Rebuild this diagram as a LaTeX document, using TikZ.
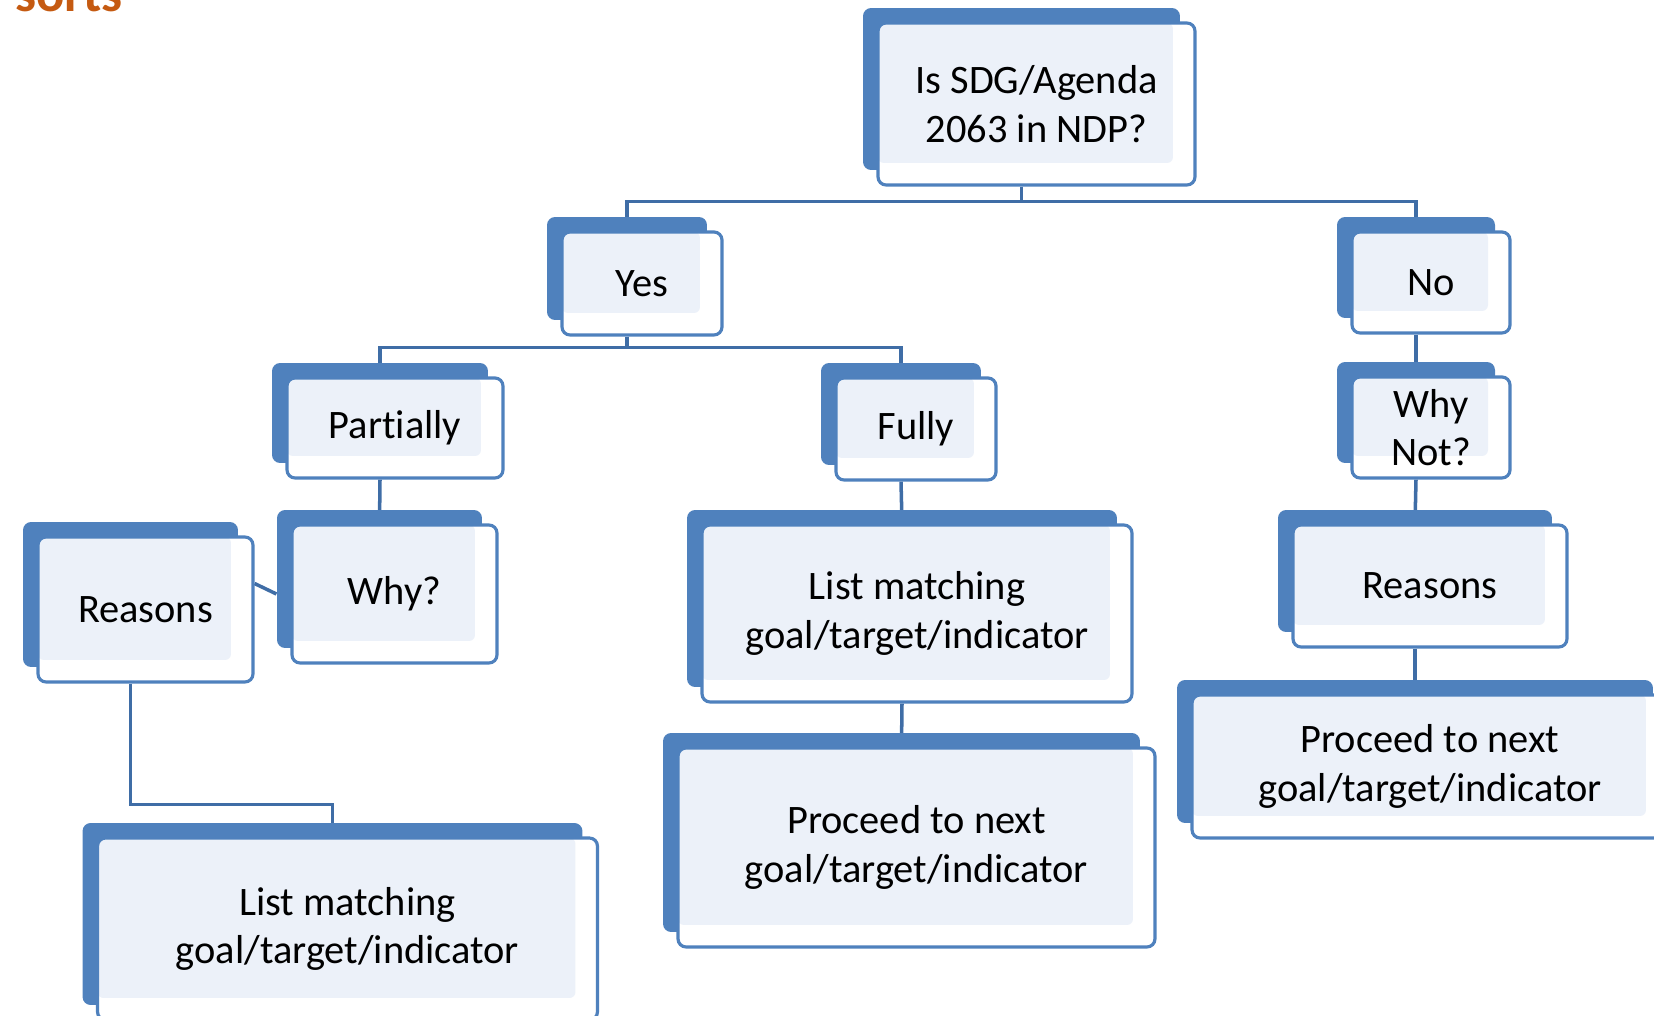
\documentclass[tikz,border=0pt]{standalone}
\usepackage{fontspec}
\setmainfont{Carlito}[Ligatures=NoCommon]
\usepackage{tikz}
\usetikzlibrary{shadows,backgrounds,positioning}

\definecolor{sablue}{HTML}{4F81BD}
\definecolor{salight}{HTML}{ECF1F9}
\definecolor{salink}{HTML}{3F6DA6}
\definecolor{saorange}{HTML}{C55A11}

\tikzset{
	sabox/.style={draw=sablue, line width=1.8pt, fill=white, rounded corners=0.16cm,
		inner sep=0pt, align=center, font=\fontsize{23}{27.5}\selectfont,
		general shadow={fill=sablue, shadow xshift=-0.3cm, shadow yshift=0.3cm},
		path picture={\fill[salight, rounded corners=0.12cm] (path picture bounding box.north west)
			rectangle ([xshift=-0.44cm,yshift=0.44cm]path picture bounding box.south east);}},
	sz/.style 2 args={minimum width=#1cm, minimum height=#2cm},
	link/.style={draw=salink, line width=2pt}
}

\begin{document}
\begin{tikzpicture}[x=0.02cm, y=-0.02cm]
		\def\sh{0.3cm}% offset of the back box
		\useasboundingbox (0,0) rectangle (1654,1016);
		\clip (0,0) rectangle (1654,1016);
		\node[font=\fontsize{30}{30}\selectfont\bfseries, text=saorange, anchor=base west, inner sep=0pt] (ttl) at (15,12) {sorts};
		% boxes
		\node[sabox, sz={6.34}{3.24}] (ndp) at (1036.5,104) {Is SDG/Agenda\\2063 in NDP?};
		\node[sabox, sz={3.2}{2.06}] (yes) at (642,283.5) {Yes};
		\node[sabox, sz={3.16}{2.02}] (no) at (1431,282.5) {No};
		\node[sabox, sz={4.32}{2.0}] (part) at (395,428) {Partially};
		\node[sabox, sz={3.2}{2.04}] (fully) at (916,429) {Fully};
		\node[sabox, sz={3.16}{2.02}] (whynot) at (1431,427.5) {Why\\Not?};
		\node[sabox, sz={4.1}{2.76}] (why) at (394.5,594) {Why?};
		\node[sabox, sz={4.3}{2.9}] (reasl) at (145.5,609.5) {Reasons};
		\node[sabox, sz={8.6}{3.54}] (listc) at (917,613.5) {List matching\\goal/target/indicator};
		\node[sabox, sz={5.48}{2.44}] (reasr) at (1430,586) {Reasons};
		\node[sabox, sz={9.52}{2.86}] (procr) at (1430,766.5) {Proceed to next\\goal/target/indicator};
		\node[sabox, sz={9.54}{3.98}] (procc) at (916.5,847.5) {Proceed to next\\goal/target/indicator};
		\node[sabox, sz={10.0}{3.64}] (listl) at (347.5,929) {List matching\\goal/target/indicator};
		% connectors
		\begin{scope}[on background layer]
			\draw[link] ([xshift=-\sh]ndp.south) -- ++(0,15) -| ([xshift=-\sh]yes.north);
			\draw[link] ([xshift=-\sh]ndp.south) -- ++(0,15) -| ([xshift=-\sh]no.north);
			\draw[link] ([xshift=-\sh]yes.south) -- ++(0,11) -| ([xshift=-\sh]part.north);
			\draw[link] ([xshift=-\sh]yes.south) -- ++(0,11) -| ([xshift=-\sh]fully.north);
			\draw[link] ([xshift=-\sh]no.south) -- ([xshift=-\sh]whynot.north);
			\draw[link] ([xshift=-\sh]part.south) -- ([xshift=-\sh]why.north);
			\draw[link] ([xshift=-\sh]fully.south) -- ([xshift=-\sh]listc.north);
			\draw[link] ([xshift=-\sh]whynot.south) -- ([xshift=-\sh]reasr.north);
			\draw[link] ([xshift=-\sh]reasr.south) -- ([xshift=-\sh]procr.north);
			\draw[link] ([xshift=-\sh]listc.south) -- ([xshift=-\sh]procc.north);
			\draw[link] ([yshift=0.52cm]reasl.east) -- ([xshift=-0.28cm]why.west);
			\draw[link] ([xshift=-\sh]reasl.south) -- ++(0,121) -| ([xshift=-\sh]listl.north);
		\end{scope}
	\end{tikzpicture}
\end{document}
